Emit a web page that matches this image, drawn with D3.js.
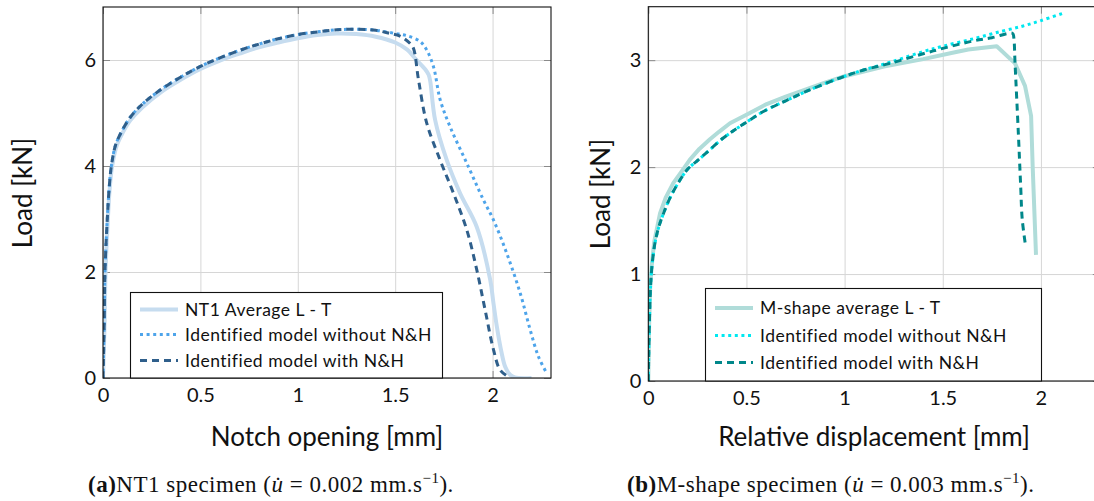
<!DOCTYPE html>
<html lang="en">
<head>
<meta charset="utf-8">
<title>Load - displacement curves</title>
<script src="https://cdnjs.cloudflare.com/ajax/libs/d3/7.8.5/d3.min.js"></script>
<style type="text/css">
  body { margin: 0; background: #fff; }
  svg { display: block; }
  .ticklab text { font-family: Lato, sans-serif; font-size: 20px; fill: #111; }
  .axis-title { font-family: Lato, sans-serif; font-size: 26px; fill: #111; }
  .legend text { font-family: Lato, sans-serif; font-size: 17.5px; letter-spacing: 0.5px; fill: #111; }
  .caption { font-family: "Liberation Serif", serif; font-size: 23px; letter-spacing: 0.5px; fill: #111; }
</style>
</head>
<body>
<script type="text/javascript">

// ---- (a) NT1 specimen ----
var ntXTicks = [0, 0.5, 1, 1.5, 2];
var ntYTicks = [0, 2, 4, 6];
var ntLabels = ["NT1 Average L - T", "Identified model without N&H", "Identified model with N&H"];

var ntAverage = [[0,0],[0.008,1],[0.013,2],[0.025,3],[0.035,3.6],[0.047,4.0],[0.07,4.38],[0.1,4.62],
  [0.14,4.86],[0.2,5.1],[0.3,5.4],[0.4,5.63],[0.5,5.83],[0.6,5.99],[0.7,6.12],[0.8,6.24],[0.9,6.33],
  [1.0,6.41],[1.1,6.47],[1.2,6.5],[1.3,6.49],[1.4,6.44],[1.5,6.33],[1.56,6.2],[1.61,6.0],[1.655,5.82],
  [1.672,5.72],[1.68,5.6],[1.705,4.87],[1.765,4.11],[1.834,3.48],[1.919,2.85],[1.988,1.85],[2.005,1.4],
  [2.022,0.97],[2.045,0.5],[2.065,0.21],[2.09,0.06],[2.115,0.01],[2.2,0]];

var ntWithout = [[0,0],[0.006,1],[0.01,2],[0.022,3],[0.032,3.6],[0.043,4.0],[0.065,4.4],[0.1,4.68],
  [0.14,4.92],[0.2,5.16],[0.3,5.45],[0.4,5.68],[0.5,5.88],[0.6,6.04],[0.7,6.18],[0.8,6.3],[0.9,6.4],
  [1.0,6.48],[1.1,6.53],[1.2,6.57],[1.3,6.58],[1.4,6.56],[1.5,6.5],[1.56,6.46],[1.628,6.35],[1.662,6.19],
  [1.697,5.87],[1.731,5.25],[1.782,4.74],[1.868,4.05],[1.953,3.36],[2.005,2.98],[2.073,2.35],[2.142,1.6],
  [2.193,0.91],[2.236,0.4],[2.278,0.09]];

var ntWith = [[0,0],[0.006,1],[0.01,2],[0.022,3],[0.032,3.6],[0.043,4.0],[0.065,4.4],[0.1,4.68],
  [0.14,4.92],[0.2,5.16],[0.3,5.45],[0.4,5.68],[0.5,5.88],[0.6,6.04],[0.7,6.18],[0.8,6.3],[0.9,6.4],
  [1.0,6.48],[1.1,6.53],[1.2,6.57],[1.3,6.58],[1.4,6.56],[1.474,6.5],[1.525,6.45],[1.577,6.31],[1.594,6.22],
  [1.62,5.62],[1.662,4.81],[1.731,4.11],[1.8,3.48],[1.868,2.79],[1.919,2.04],[1.962,1.28],[2.005,0.53],
  [2.039,0.15],[2.082,0.02]];

// ---- (b) M-shape specimen ----
var msXTicks = [0, 0.5, 1, 1.5, 2];
var msYTicks = [0, 1, 2, 3];
var msLabels = ["M-shape average L - T", "Identified model without N&H", "Identified model with N&H"];

var msAverage = [[0,0],[0.004,0.5],[0.01,0.9],[0.017,1.07],[0.03,1.3],[0.06,1.57],[0.09,1.72],[0.127,1.85],
  [0.17,1.96],[0.212,2.07],[0.26,2.17],[0.314,2.26],[0.36,2.33],[0.416,2.41],[0.5,2.49],[0.603,2.59],
  [0.7,2.66],[0.807,2.73],[0.9,2.79],[1.0,2.85],[1.2,2.94],[1.4,3.01],[1.55,3.07],[1.63,3.1],[1.775,3.13],
  [1.868,2.97],[1.919,2.76],[1.95,2.48],[1.958,2.01],[1.975,1.18]];

var msWithout = [[0,0],[0.005,0.5],[0.012,0.9],[0.02,1.1],[0.035,1.3],[0.055,1.45],[0.076,1.56],[0.11,1.71],
  [0.145,1.83],[0.2,1.98],[0.25,2.06],[0.3,2.14],[0.38,2.27],[0.45,2.36],[0.5,2.42],[0.586,2.52],[0.7,2.62],
  [0.807,2.71],[0.9,2.78],[1.0,2.85],[1.1,2.91],[1.231,2.98],[1.4,3.08],[1.5,3.13],[1.656,3.2],[1.8,3.27],
  [1.91,3.32],[2.0,3.37],[2.114,3.44]];

var msWith = [[0,0],[0.005,0.5],[0.012,0.9],[0.02,1.1],[0.035,1.3],[0.055,1.45],[0.076,1.56],[0.11,1.71],
  [0.145,1.83],[0.2,1.98],[0.25,2.06],[0.3,2.14],[0.38,2.27],[0.45,2.36],[0.5,2.42],[0.586,2.52],[0.7,2.62],
  [0.807,2.71],[0.9,2.78],[1.0,2.85],[1.1,2.91],[1.231,2.97],[1.4,3.06],[1.5,3.11],[1.656,3.18],[1.75,3.21],
  [1.856,3.25],[1.862,3.21],[1.868,2.98],[1.885,2.32],[1.897,1.82],[1.905,1.51],[1.923,1.25]];

var svg = d3.select("body").append("svg")
    .attr("width", 1094)
    .attr("height", 501);

svg.append("rect").attr("width", 1094).attr("height", 501).attr("fill", "#fff");

function drawPanel(p) {
    var w = p.right - p.left, h = p.bottom - p.top;
    var x = d3.scaleLinear().domain(p.xDomain).range([0, w]);
    var y = d3.scaleLinear().domain(p.yDomain).range([h, 0]);
    var g = svg.append("g").attr("transform", "translate(" + p.left + "," + p.top + ")");

    // grid
    g.append("g").attr("transform", "translate(0," + h + ")")
        .call(d3.axisBottom(x).tickValues(p.xTicks).tickSize(-h).tickFormat(""))
        .call(function(a) { a.select(".domain").remove(); a.selectAll("line").attr("stroke", "#d6d6d6"); });
    g.append("g")
        .call(d3.axisLeft(y).tickValues(p.yTicks).tickSize(-w).tickFormat(""))
        .call(function(a) { a.select(".domain").remove(); a.selectAll("line").attr("stroke", "#d6d6d6"); });

    // small inner ticks on all four sides
    var inner = [
        [d3.axisBottom(x).tickValues(p.xTicks), "translate(0," + h + ")"],
        [d3.axisTop(x).tickValues(p.xTicks), "translate(0,0)"],
        [d3.axisLeft(y).tickValues(p.yTicks), "translate(0,0)"],
        [d3.axisRight(y).tickValues(p.yTicks), "translate(" + w + ",0)"]
    ];
    inner.forEach(function(a) {
        g.append("g").attr("transform", a[1])
            .call(a[0].tickSize(-7).tickFormat(""))
            .call(function(s) { s.select(".domain").remove(); s.selectAll("line").attr("stroke", "#8a8a8a"); });
    });

    // curves
    var clipId = "clip-" + p.id;
    g.append("clipPath").attr("id", clipId).append("rect").attr("width", w).attr("height", h);
    var curves = g.append("g").attr("clip-path", "url(#" + clipId + ")");
    p.series.forEach(function(s) {
        var line = d3.line()
            .x(function(d) { return x(d[0]); })
            .y(function(d) { return y(d[1]); })
            .curve(s.curve);
        curves.append("path")
            .datum(s.data)
            .attr("fill", "none")
            .attr("stroke", s.color)
            .attr("stroke-width", s.width)
            .attr("stroke-dasharray", s.dash)
            .attr("stroke-linejoin", "round")
            .attr("d", line);
    });

    // frame
    g.append("rect").attr("width", w).attr("height", h)
        .attr("fill", "none").attr("stroke", "#111").attr("stroke-width", 1.1);

    // tick labels
    g.append("g").attr("class", "ticklab").attr("transform", "translate(0," + h + ")")
        .call(d3.axisBottom(x).tickValues(p.xTicks).tickSize(0).tickPadding(p.xPad).tickFormat(d3.format("~g")))
        .call(function(a) { a.select(".domain").remove(); a.selectAll("text").attr("fill", "#111"); });
    g.append("g").attr("class", "ticklab")
        .call(d3.axisLeft(y).tickValues(p.yTicks).tickSize(0).tickPadding(7).tickFormat(d3.format("~g")))
        .call(function(a) { a.select(".domain").remove(); a.selectAll("text").attr("fill", "#111"); });

    // axis titles
    svg.append("text").attr("class", "axis-title")
        .attr("x", (p.left + p.right) / 2).attr("y", p.xTitleY)
        .attr("text-anchor", "middle").text(p.xTitle);
    svg.append("text").attr("class", "axis-title")
        .attr("transform", "translate(" + p.yTitleX + "," + p.yTitleY + ") rotate(-90)")
        .attr("text-anchor", "middle").text("Load [kN]");

    // legend
    var lg = svg.append("g").attr("class", "legend");
    lg.append("rect")
        .attr("x", p.legend.x).attr("y", p.legend.y)
        .attr("width", p.legend.w).attr("height", p.legend.h)
        .attr("fill", "#fff").attr("stroke", "#111").attr("stroke-width", 1.1);
    p.series.forEach(function(s, i) {
        var cy = p.legend.rows[i];
        lg.append("line")
            .attr("x1", p.legend.lineX).attr("x2", p.legend.lineX + 38)
            .attr("y1", cy).attr("y2", cy)
            .attr("stroke", s.color).attr("stroke-width", s.width)
            .attr("stroke-dasharray", s.dash);
        lg.append("text")
            .attr("x", p.legend.lineX + 45).attr("y", cy + 6)
            .text(p.labels[i]);
    });

    // caption
    var cap = svg.append("text").attr("class", "caption")
        .attr("x", p.captionX).attr("y", p.captionY);
    cap.append("tspan").attr("font-weight", "bold").text(p.captionTag);
    cap.append("tspan").text(p.captionName + " (");
    cap.append("tspan").attr("font-style", "italic").text("u\u0307");
    cap.append("tspan").text(" = " + p.captionRate + " mm.s");
    cap.append("tspan").attr("font-size", "15px").attr("dy", -9).text("\u22121");
    cap.append("tspan").attr("dy", 9).text(").");
}

drawPanel({
    id: "nt1",
    left: 103, right: 551, top: 7, bottom: 378,
    xDomain: [0, 2.3], yDomain: [0, 7],
    xTicks: ntXTicks, yTicks: ntYTicks, xPad: 10,
    xTitle: "Notch opening [mm]", xTitleY: 446,
    yTitleX: 32, yTitleY: 193,
    labels: ntLabels,
    series: [
        { data: ntAverage, color: "#c6dcef", width: 4, dash: null, curve: d3.curveCatmullRom.alpha(0.5) },
        { data: ntWithout, color: "#4ea4ea", width: 3, dash: "3,3.6", curve: d3.curveCatmullRom.alpha(0.5) },
        { data: ntWith, color: "#2f5f8b", width: 3, dash: "7,5", curve: d3.curveCatmullRom.alpha(0.5) }
    ],
    legend: { x: 130.5, y: 292.5, w: 312, h: 85.5, lineX: 140, rows: [309.5, 334.5, 360.5] },
    captionX: 88, captionY: 492,
    captionTag: "(a)", captionName: "NT1 specimen", captionRate: "0.002"
});

drawPanel({
    id: "mshape",
    left: 648.3, right: 1099.8, top: 6.7, bottom: 381,
    xDomain: [0, 2.3], yDomain: [0, 3.5],
    xTicks: msXTicks, yTicks: msYTicks, xPad: 10,
    xTitle: "Relative displacement [mm]", xTitleY: 446,
    yTitleX: 610, yTitleY: 194,
    labels: msLabels,
    series: [
        { data: msAverage, color: "#b0dcd9", width: 4, dash: null, curve: d3.curveLinear },
        { data: msWithout, color: "#00e8f0", width: 3, dash: "3,3.6", curve: d3.curveCatmullRom.alpha(0.5) },
        { data: msWith, color: "#00878a", width: 3, dash: "7,5", curve: d3.curveCatmullRom.alpha(0.5) }
    ],
    legend: { x: 705.5, y: 288.5, w: 336, h: 92.5, lineX: 715, rows: [308, 335.5, 362.5] },
    captionX: 627, captionY: 492,
    captionTag: "(b)", captionName: "M-shape specimen", captionRate: "0.003"
});

</script>
</body>
</html>
